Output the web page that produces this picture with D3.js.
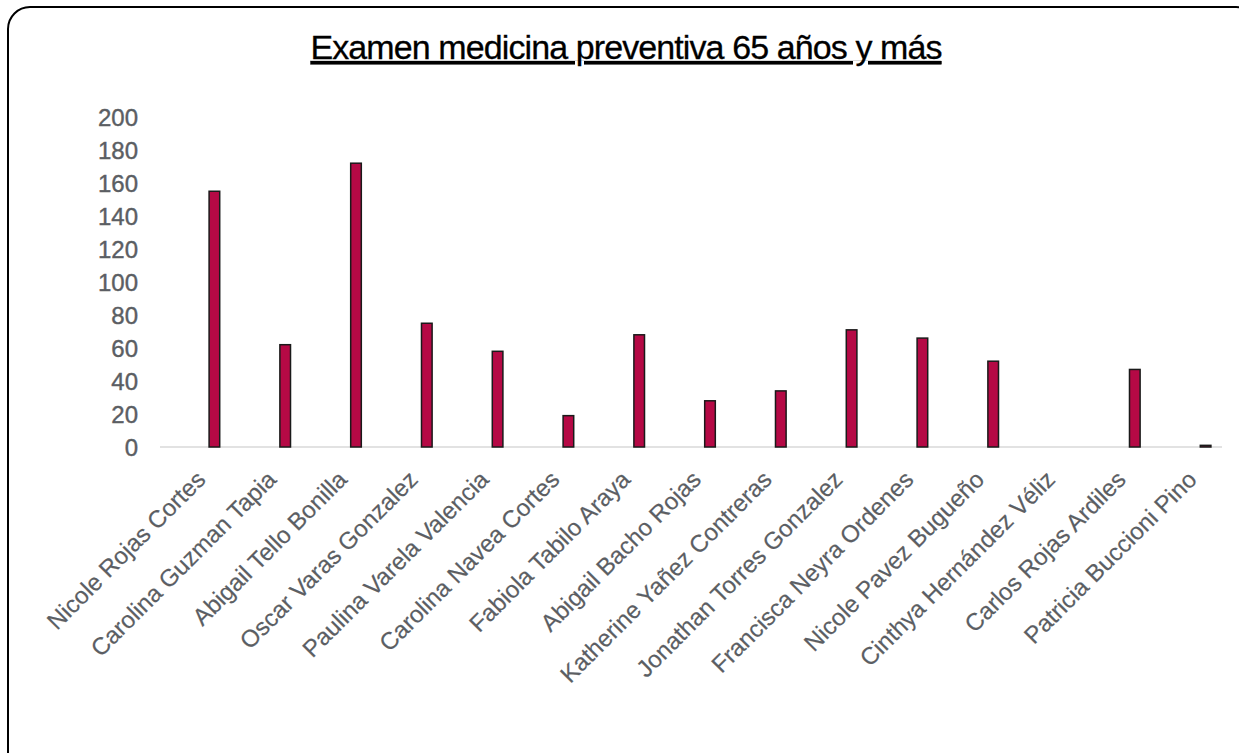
<!DOCTYPE html>
<html>
<head>
<meta charset="utf-8">
<script src="https://cdn.jsdelivr.net/npm/d3@7"></script>
<style>
  body { margin: 0; background: #fff; }
  svg { display: block; }
</style>
</head>
<body>
<svg id="chart" width="1239" height="753"></svg>
<script>
// data
var names = ["Nicole Rojas Cortes", "Carolina Guzman Tapia", "Abigail Tello Bonilla",
  "Oscar Varas Gonzalez", "Paulina Varela Valencia", "Carolina Navea Cortes",
  "Fabiola Tabilo Araya", "Abigail Bacho Rojas", "Katherine Yañez Contreras",
  "Jonathan Torres Gonzalez", "Francisca Neyra Ordenes", "Nicole Pavez Bugueño",
  "Cinthya Hernández Véliz", "Carlos Rojas Ardiles", "Patricia Buccioni Pino"];
var values = [155, 62, 172, 75, 58, 19, 68, 28, 34, 71, 66, 52, 0, 47, 1];
var yTicks = [0, 20, 40, 60, 80, 100, 120, 140, 160, 180, 200];
var title = "Examen medicina preventiva 65 años y más";

var svg = d3.select("#chart");
var font = "'Liberation Sans', Arial, sans-serif";
var grey = "#5b5e63";

// rounded frame
svg.append("rect")
  .attr("x", 8).attr("y", 7)
  .attr("width", 1250).attr("height", 770)
  .attr("rx", 22).attr("ry", 22)
  .attr("fill", "none")
  .attr("stroke", "#000")
  .attr("stroke-width", 2);

// title
svg.append("text")
  .attr("x", 626).attr("y", 59)
  .attr("text-anchor", "middle")
  .attr("font-family", font)
  .attr("font-size", 34)
  .attr("letter-spacing", -0.9)
  .attr("fill", "#000")
  .attr("stroke", "#000")
  .attr("stroke-width", 0.3)
  .attr("text-decoration", "underline")
  .text(title);

var x = d3.scaleBand()
  .domain(names)
  .range([179, 1241])
  .paddingInner(0.85)
  .paddingOuter(0.425);

var y = d3.scaleLinear()
  .domain([0, 200])
  .range([447, 117]);

// y axis labels
var yAxis = d3.axisLeft(y).tickValues(yTicks).tickSize(0).tickPadding(0);
var gy = svg.append("g")
  .attr("transform", "translate(138,0)")
  .call(yAxis);
gy.select(".domain").remove();
gy.selectAll("text")
  .attr("font-family", font)
  .attr("font-size", 24)
  .attr("fill", grey)
  .attr("stroke", grey)
  .attr("stroke-width", 0.4)
  .attr("dy", "0.36em");

// baseline
svg.append("line")
  .attr("x1", 160).attr("x2", 1222)
  .attr("y1", y(0)).attr("y2", y(0))
  .attr("stroke", "#d9d9d9")
  .attr("stroke-width", 1.5);

// bars
svg.append("g").selectAll("rect")
  .data(values)
  .join("rect")
  .attr("x", function(d, i) { return x(names[i]); })
  .attr("y", function(d) { return y(d); })
  .attr("width", x.bandwidth())
  .attr("height", function(d) { return y(0) - y(d); })
  .attr("fill", "#b50945")
  .attr("stroke", "#1a1a1a")
  .attr("stroke-width", 1.5)
  .attr("display", function(d) { return d > 0 ? null : "none"; });

// category labels, rotated
svg.append("g").selectAll("text")
  .data(names)
  .join("text")
  .attr("transform", function(d) {
    var cx = x(d) + x.bandwidth() / 2 - 7.5;
    return "translate(" + cx + ",481) rotate(-45)";
  })
  .attr("text-anchor", "end")
  .attr("font-family", font)
  .attr("font-size", 24)
  .attr("fill", grey)
  .attr("stroke", grey)
  .attr("stroke-width", 0.2)
  .text(function(d) { return d; });
</script>
</body>
</html>
